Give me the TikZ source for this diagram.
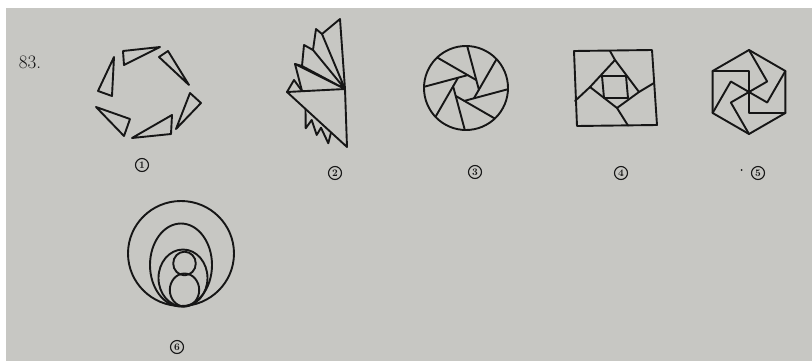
\documentclass[tikz,border=0pt]{standalone}
\definecolor{paper}{RGB}{199,199,195}
\definecolor{ink}{RGB}{22,22,22}
\begin{document}
\begin{tikzpicture}[x=1pt, y=-1pt]
	\tikzset{
		pen/.style={draw=ink, line width=1.9pt, line join=round, line cap=round},
		num/.style={circle, draw=ink, line width=1.1pt, inner sep=0.5pt, minimum size=13pt, text=ink, font=\fontsize{10}{10}\selectfont\bfseries}
	}
	\useasboundingbox (0,0) rectangle (812,362);
	\fill[white] (0,0) rectangle (812,362);
	\fill[paper] (6,8) rectangle (812,361);
	\node[text=ink, font=\fontsize{19}{19}\selectfont] (title) at (30,62) {83.};
	% figure 1
	\draw[pen] (123,51) -- (160,47) -- (124,65) -- cycle;
	\draw[pen] (159,57) -- (168,51) -- (189,85) -- cycle;
	\draw[pen] (190,93) -- (201,103) -- (176,129) -- cycle;
	\draw[pen] (172,115) -- (171,134) -- (132,138) -- cycle;
	\draw[pen] (96,107) -- (130,119) -- (124,136) -- cycle;
	\draw[pen] (114,57) -- (112,96) -- (98,91) -- cycle;
	\node[num] (n1) at (142,165) {1};
	% figure 2
	\coordinate (c) at (345,89);
	\coordinate (l) at (287,92);
	\coordinate (bt) at (347,147);
	\draw[pen] (l) -- (c) -- (340,19) -- (322,34) -- (316,29) -- (313,50) -- (304,45) -- (302,66) -- (295,64) -- (302,91);
	\draw[pen] (l) -- (294,80) -- (302,91);
	\draw[pen] (c) -- (322,34) (c) -- (313,50) (c) -- (302,66) (c) -- (295,64);
	\draw[pen] (l) -- (bt) -- (c);
	\draw[pen] (305.5,109) -- (305.7,128.3) -- (311.7,120) -- (316.7,135) -- (321,127.7) -- (328.3,143.3) -- (331,132.5);
	\node[num] (n2) at (335,173) {2};
	% figure 3
	\begin{scope}[shift={(466,88)}]
		\draw[pen] (0,0) circle [radius=42];
		\foreach \a in {-15,30,...,300}
			\draw[pen] (\a:12.01) ++(\a+90:4.97) -- ++(\a-90:45.22);
	\end{scope}
	\node[num] (n3) at (475,172) {3};
	% figure 4
	\draw[pen] (574,51) -- (652,50) -- (657,125) -- (577,126) -- cycle;
	\draw[pen] (602,76) -- (626,76) -- (628,98) -- (604,98) -- cycle;
	\draw[pen] (610,51) -- (615,60) -- (639,92);
	\draw[pen] (615,60) -- (590,87) -- (575,101);
	\draw[pen] (654,83) -- (639,92) -- (617,108);
	\draw[pen] (628,125.5) -- (617,108) -- (590,87);
	\node[num] (n4) at (621,173) {4};
	% figure 5
	\begin{scope}[shift={(749,92)}]
		\draw[pen] (-90:42) -- (-30:42) -- (30:42) -- (90:42) -- (150:42) -- (210:42) -- cycle;
		\foreach \r in {0,60,120}
			\draw[pen] (210+\r:42) -- (270+\r:21) -- (90+\r:21) -- (30+\r:42);
	\end{scope}
	\fill[ink] (741.7,170) circle [radius=1];
	\node[num] (n5) at (758,173) {5};
	% figure 6
	\draw[pen] (181,253.5) ellipse [x radius=53, y radius=52.5];
	\draw[pen] (181,265) ellipse [x radius=31, y radius=41.5];
	\draw[pen] (183,278) ellipse [x radius=24.5, y radius=28.5];
	\draw[pen] (184.5,263.5) ellipse [x radius=11.3, y radius=11.8];
	\draw[pen] (184.5,290) ellipse [x radius=14.7, y radius=16.5];
	\node[num] (n6) at (177,347) {6};
\end{tikzpicture}
\end{document}
